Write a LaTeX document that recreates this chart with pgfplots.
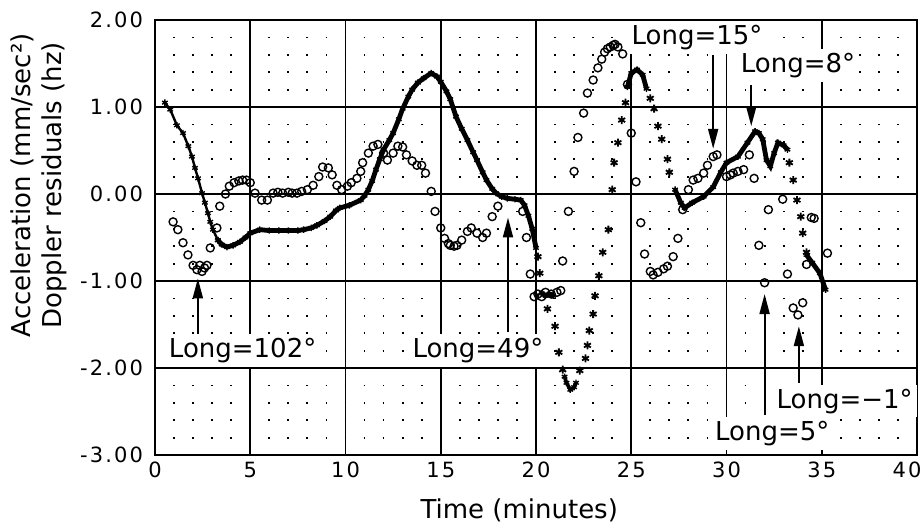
\documentclass[border=0pt]{standalone}
\usepackage{fontspec}
\setmainfont{DejaVu Sans}
\newfontfamily\tickfont[LetterSpace=10]{DejaVu Sans}
\usepackage{pgfplots}
\pgfplotsset{compat=1.18}
\usetikzlibrary{arrows.meta}

\newcommand{\lbl}{\fontsize{13}{15.5}\selectfont}

\pgfplotsset{
  dense/.style={black, line width=2.4pt, mark=asterisk, mark size=1.6pt,
    mark options={line width=0.7pt, solid}},
  sparse/.style={black, only marks, mark=asterisk, mark size=2pt,
    mark options={line width=0.9pt}},
  circ/.style={black, only marks, mark=o, mark size=2pt,
    mark options={line width=0.7pt}},
}
\tikzset{
  longarrow/.style={line width=1pt, -{Triangle[length=10pt,width=5pt]}},
  longlabel/.style={fill=white, inner sep=2pt, font=\lbl},
}

\begin{document}
\begin{tikzpicture}
\begin{axis}[
  name=ax,
  scale only axis,
  width=381pt, height=217.5pt,
  xmin=0, xmax=40, ymin=-3, ymax=2,
  xtick={0,5,...,40},
  xticklabels={0,5,10,15,20,25,30,35,\hspace*{-10pt}40},
  ytick={-3,-2,-1,0,1,2},
  yticklabels={-3.00,-2.00,-1.00,0.00,1.00,2.00},
  minor y tick num=4,
  major tick length=0pt, minor tick length=0pt,
  xmajorgrids, ymajorgrids, yminorgrids,
  major grid style={black, line width=0.8pt},
  minor grid style={black, line width=0.9pt, dash pattern=on 0.9pt off 8.625pt, dash phase=0.45pt},
  axis line style={line width=1pt},
  ticklabel style={font=\tickfont\fontsize{10.5}{13}\selectfont},
  yticklabel style={xshift=-2.5pt},
  /pgf/number format/assume math mode=true,
  xlabel={Time (minutes)},
  xlabel style={font=\lbl, at={(ticklabel cs:0.478)}, yshift=-3.5pt},
  ylabel={Acceleration (mm/sec²)\\Doppler residuals (hz)},
  ylabel style={font=\lbl, align=center, at={(ticklabel cs:0.62)}},
  clip=false,
]
% acceleration (stars)
\addplot[dense, line width=1.2pt] coordinates {
(0.52,1.05) (0.8,0.97) (1.15,0.79) (1.47,0.70) (1.75,0.55) (1.94,0.43)
(2.1,0.30) (2.26,0.18) (2.47,0.01) (2.62,-0.10) (2.78,-0.22) (2.9,-0.32)
(3.04,-0.41) (3.3,-0.53)};
\addplot[dense] coordinates {
(3.3,-0.53) (3.5,-0.58) (3.78,-0.61) (4.1,-0.59) (4.46,-0.55) (4.75,-0.50)
(5.0,-0.45) (5.5,-0.41) (6.0,-0.42) (6.5,-0.42) (7.0,-0.42) (7.5,-0.42)
(7.8,-0.41) (8.2,-0.39) (8.5,-0.36) (8.9,-0.31) (9.2,-0.26) (9.5,-0.19)
(9.7,-0.16) (10.2,-0.13) (10.8,-0.07) (11.0,-0.02) (11.2,0.05) (11.4,0.15)
(11.6,0.28) (11.8,0.40) (12.0,0.51) (12.3,0.62) (12.5,0.70) (12.8,0.86)
(13.0,0.98) (13.3,1.12) (13.5,1.20) (13.8,1.28) (14.1,1.33) (14.5,1.39)
(14.8,1.35) (15.0,1.29) (15.3,1.18) (15.5,1.09) (15.8,0.89) (16.1,0.75)
(16.4,0.62) (16.7,0.48) (16.9,0.39) (17.2,0.25) (17.4,0.16) (17.7,0.06)
(17.9,0.01) (18.2,-0.03) (18.5,-0.05) (18.9,-0.06) (19.2,-0.07) (19.4,-0.13)
(19.6,-0.25) (19.8,-0.40) (20.0,-0.62)};
\addplot[sparse] coordinates {(20.1,-0.72) (20.2,-0.91)};
\addplot[dense] coordinates {(20.3,-1.14) (20.5,-1.17) (20.7,-1.15) (20.9,-1.17)};
\addplot[sparse] coordinates {
(20.6,-1.32) (21.0,-1.52) (21.2,-1.82) (21.4,-2.02) (22.3,-2.03) (22.6,-1.89)
(22.7,-1.74) (22.8,-1.57) (23.0,-1.38) (23.1,-1.17) (23.3,-0.94) (23.5,-0.67)
(23.8,-0.41) (24.0,0.05) (24.1,0.36) (24.3,0.59) (24.5,0.85) (24.7,1.05)};
\addplot[dense, line width=1.8pt] coordinates {
(21.5,-2.10) (21.6,-2.17) (21.8,-2.25) (22.0,-2.22) (22.1,-2.17)};
\addplot[dense] coordinates {
(24.8,1.23) (25.0,1.39) (25.3,1.43) (25.6,1.37) (25.8,1.21)};
\addplot[sparse] coordinates {
(26.0,1.10) (26.2,0.98) (26.4,0.78) (26.6,0.63) (26.9,0.40) (27.0,0.25)};
\addplot[dense] coordinates {
(27.3,0.05) (27.6,-0.10) (27.8,-0.16) (28.2,-0.10) (28.8,-0.03) (29.3,0.08)
(29.7,0.25) (30.0,0.36) (30.6,0.43) (31.1,0.59) (31.5,0.72) (31.7,0.70)
(31.9,0.63) (32.1,0.39) (32.3,0.32) (32.5,0.47) (32.7,0.59) (33.0,0.56)
(33.2,0.51)};
\addplot[sparse] coordinates {
(33.3,0.36) (33.5,0.16) (33.7,-0.07) (33.9,-0.26) (34.0,-0.45) (34.2,-0.67)};
\addplot[dense] coordinates {(34.2,-0.70) (34.5,-0.79) (34.9,-0.91) (35.2,-1.10)};
% doppler residuals (circles)
\addplot[circ] coordinates {
(0.95,-0.32) (1.2,-0.41) (1.47,-0.56) (1.73,-0.70) (2.0,-0.82) (2.2,-0.87)
(2.35,-0.82) (2.47,-0.89) (2.6,-0.85) (2.73,-0.82) (2.9,-0.62) (3.25,-0.39)
(3.4,-0.14) (3.7,0.0) (3.9,0.09) (4.15,0.13) (4.4,0.15) (4.6,0.16) (4.8,0.16)
(5.0,0.13) (5.25,0.01) (5.6,-0.07) (5.9,-0.07) (6.2,0.01) (6.45,0.02)
(6.7,0.01) (7.0,0.02) (7.2,0.01) (7.45,0.01) (7.7,0.03) (8.0,0.05) (8.3,0.10)
(8.6,0.20) (8.8,0.31) (9.1,0.30) (9.3,0.22) (9.55,0.10) (9.8,0.05) (10.1,0.09)
(10.3,0.13) (10.6,0.18) (10.8,0.26) (10.9,0.36) (11.2,0.47) (11.45,0.55)
(11.7,0.57) (12.0,0.47) (12.2,0.39) (12.5,0.47) (12.75,0.55) (13.0,0.54)
(13.2,0.45) (13.5,0.38) (13.75,0.33) (14.0,0.33) (14.2,0.24) (14.5,0.03)
(14.7,-0.20) (15.0,-0.39) (15.2,-0.51) (15.4,-0.57) (15.5,-0.59) (15.7,-0.60)
(15.85,-0.59) (16.1,-0.53) (16.4,-0.43) (16.6,-0.39) (16.9,-0.45) (17.2,-0.50)
(17.4,-0.45) (17.7,-0.26) (18.0,-0.14) (19.3,-0.20) (19.5,-0.50) (19.7,-0.92)
(19.9,-1.18) (20.1,-1.15) (20.3,-1.18) (20.5,-1.13) (20.8,-1.15) (21.1,-1.13)
(21.3,-1.11) (21.4,-0.77) (21.7,-0.20) (22.0,0.26) (22.2,0.65) (22.5,0.93)
(22.7,1.16) (23.0,1.31) (23.25,1.45) (23.45,1.55) (23.6,1.63) (23.75,1.67)
(23.9,1.69) (24.05,1.71) (24.15,1.72) (24.3,1.69) (24.55,1.61) (24.8,1.26)
(25.0,0.70) (25.25,0.14) (25.5,-0.33) (25.7,-0.69) (26.0,-0.89) (26.15,-0.93)
(26.4,-0.90) (26.7,-0.86) (26.9,-0.83) (27.2,-0.72) (27.45,-0.51) (27.7,-0.18)
(28.0,0.05) (28.25,0.16) (28.5,0.18) (28.8,0.24) (29.0,0.33) (29.3,0.43)
(29.5,0.45) (30.0,0.20) (30.2,0.22) (30.35,0.24) (30.6,0.26) (30.9,0.28)
(31.2,0.45) (31.45,0.18) (31.7,-0.59) (32.0,-1.02) (32.2,-0.18) (32.95,-0.06)
(33.2,-0.92) (33.5,-1.31) (33.75,-1.39) (34.0,-1.25) (34.2,-0.81) (34.45,-0.27)
(34.6,-0.28) (35.3,-0.68)};
% longitude markers
\draw[longarrow] (axis cs:2.25,-1.62) -- (axis cs:2.25,-0.97);
\draw[longarrow] (axis cs:18.53,-1.59) -- (axis cs:18.53,-0.27);
\draw[longarrow] (axis cs:29.3,1.60) -- (axis cs:29.3,0.52);
\draw[longarrow] (axis cs:31.3,1.25) -- (axis cs:31.3,0.78);
\draw[longarrow] (axis cs:32.0,-2.54) -- (axis cs:32.0,-1.15);
\draw[longarrow] (axis cs:33.8,-2.17) -- (axis cs:33.8,-1.52);
\node[longlabel] at (axis cs:4.6,-1.80) {Long=102°};
\node[longlabel] at (axis cs:16.95,-1.80) {Long=49°};
\node[longlabel] at (axis cs:28.45,1.80) {Long=15°};
\node[longlabel] at (axis cs:33.75,1.48) {Long=8°};
\node[longlabel] at (axis cs:32.4,-2.75) {Long=5°};
\node[longlabel] at (axis cs:36.2,-2.38) {Long=−1°};
\end{axis}
\pgfresetboundingbox
\path[use as bounding box] ([shift={(-77.5pt,-35.5pt)}]ax.south west)
  rectangle ([shift={(2.5pt,10pt)}]ax.north east);
\end{tikzpicture}
\end{document}
